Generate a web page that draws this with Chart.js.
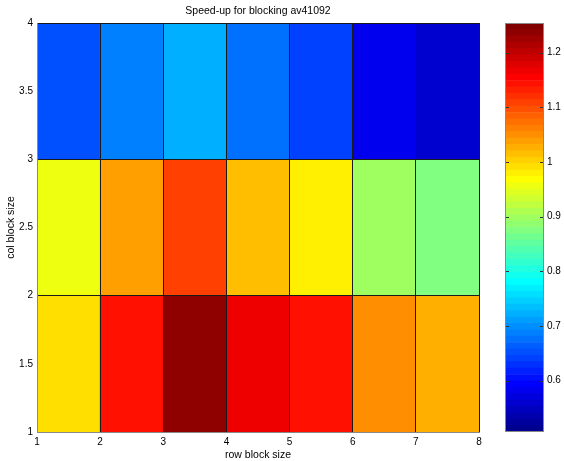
<!DOCTYPE html>
<html>
<head>
<meta charset="utf-8">
<script src="https://cdn.jsdelivr.net/npm/chart.js@4.4.1/dist/chart.umd.min.js"></script>
<style>
  html, body { margin: 0; padding: 0; background: #fff; overflow: hidden; }
  #wrap { position: relative; width: 564px; height: 461px; }
  #heat { position: absolute; left: 0; top: 0; width: 495px; height: 461px; }
  #cbar { position: absolute; left: 495px; top: 0; width: 69px; height: 461px; }
</style>
</head>
<body>
<div id="wrap">
  <canvas id="heat" width="495" height="461"></canvas>
  <canvas id="cbar" width="69" height="461"></canvas>
</div>
<script>
const rowBlockEdges = [1, 2, 3, 4, 5, 6, 7, 8];
const colBlockEdges = [1, 2, 3, 4];

// speed-up per cell, one array per col block band (bottom to top)
const speedupCol1 = [0.991, 1.143, 1.236, 1.166, 1.143, 1.049, 1.026];
const speedupCol2 = [0.956, 1.038, 1.108, 1.014, 0.979, 0.898, 0.874];
const speedupCol3 = [0.652, 0.687, 0.722, 0.676, 0.640, 0.582, 0.559];

const xTicks = [1, 2, 3, 4, 5, 6, 7, 8];
const yTicks = [1, 1.5, 2, 2.5, 3, 3.5, 4];
const cbarTicks = [0.6, 0.7, 0.8, 0.9, 1, 1.1, 1.2];
const cMin = 0.506;
const cMax = 1.254;

const FONT = '"Liberation Sans", Arial, Helvetica, sans-serif';

// matlab style jet(64)
function jet64(i) {
  const u = [];
  for (let k = 1; k <= 16; k++) u.push(k / 16);
  for (let k = 0; k < 15; k++) u.push(1);
  for (let k = 16; k >= 1; k--) u.push(k / 16);
  const pick = j => (j >= 0 && j < u.length ? u[j] : 0);
  const c = v => Math.round(v * 255);
  return `rgb(${c(pick(i - 24))},${c(pick(i - 8))},${c(pick(i + 8))})`;
}

function colorFor(v) {
  let idx = Math.floor((v - cMin) / (cMax - cMin) * 64);
  idx = Math.max(0, Math.min(63, idx));
  return jet64(idx);
}

function rowDataset(values, band) {
  return {
    data: values.map((v, i) => ({
      x: (rowBlockEdges[i] + rowBlockEdges[i + 1]) / 2,
      y: [colBlockEdges[band], colBlockEdges[band + 1]]
    })),
    backgroundColor: values.map(colorFor)
  };
}

function fixTicks(list) {
  return scale => { scale.ticks = list.map(v => ({ value: v })); };
}

const plainLabel = v => String(+v.toFixed(2));

new Chart(document.getElementById('heat'), {
  type: 'bar',
  data: {
    datasets: [
      rowDataset(speedupCol1, 0),
      rowDataset(speedupCol2, 1),
      rowDataset(speedupCol3, 2)
    ]
  },
  options: {
    responsive: false,
    animation: false,
    layout: { padding: { top: 0, right: 16, bottom: 0, left: 0 } },
    datasets: {
      bar: { grouped: false, barPercentage: 1, categoryPercentage: 1, borderWidth: 0 }
    },
    plugins: {
      legend: { display: false },
      tooltip: { enabled: false },
      title: {
        display: true,
        text: 'Speed-up for blocking av41092',
        fullSize: false,
        color: '#000',
        font: { family: FONT, size: 10.5, weight: 'normal' },
        padding: { top: 5, bottom: 5.4 }
      }
    },
    scales: {
      x: {
        type: 'linear',
        min: 1,
        max: 8,
        offset: false,
        afterBuildTicks: fixTicks(xTicks),
        afterFit: scale => { scale.height = 29; },
        ticks: { color: '#000', font: { family: FONT, size: 10 }, padding: 4, callback: plainLabel },
        grid: { color: '#1a1a1a', lineWidth: 1, drawTicks: false, offset: false, z: 1 },
        border: { color: '#888', z: 2 },
        title: {
          display: true,
          text: 'row block size',
          color: '#000',
          font: { family: FONT, size: 10.5 },
          padding: { top: 0, bottom: 0 }
        }
      },
      y: {
        type: 'linear',
        min: 1,
        max: 4,
        afterBuildTicks: fixTicks(yTicks),
        afterFit: scale => { scale.width = 37; },
        ticks: { color: '#000', font: { family: FONT, size: 10 }, padding: 4, callback: plainLabel },
        grid: {
          color: ctx => (ctx.tick && Number.isInteger(ctx.tick.value)) ? '#1a1a1a' : 'rgba(0,0,0,0)',
          lineWidth: 1,
          drawTicks: false,
          z: 1
        },
        border: { color: '#888', z: 2 },
        title: {
          display: true,
          text: 'col block size',
          color: '#000',
          font: { family: FONT, size: 10.5 },
          padding: { top: 4.7, bottom: 0 }
        }
      }
    }
  }
});

// colour bar: one floating bar per colormap level
const bandStep = (cMax - cMin) / 64;
const cbarSets = [];
for (let i = 0; i < 64; i++) {
  cbarSets.push({
    data: [[cMin + i * bandStep, cMin + (i + 1) * bandStep]],
    backgroundColor: jet64(i)
  });
}

const cbarFrame = {
  id: 'cbarFrame',
  afterDraw(chart) {
    const { ctx, chartArea: a, scales: { y } } = chart;
    ctx.save();
    ctx.strokeStyle = '#333';
    ctx.lineWidth = 1;
    cbarTicks.forEach(v => {
      const py = Math.round(y.getPixelForValue(v)) + 0.5;
      ctx.beginPath();
      ctx.moveTo(a.left, py); ctx.lineTo(a.left + 4, py);
      ctx.moveTo(a.right - 4, py); ctx.lineTo(a.right, py);
      ctx.stroke();
    });
    ctx.strokeStyle = '#888';
    ctx.strokeRect(Math.round(a.left) + 0.5, Math.round(a.top) + 0.5,
      Math.round(a.right - a.left) - 1, Math.round(a.bottom - a.top) - 1);
    ctx.restore();
  }
};

new Chart(document.getElementById('cbar'), {
  type: 'bar',
  data: { labels: [''], datasets: cbarSets },
  options: {
    responsive: false,
    animation: false,
    layout: { padding: { top: 23, right: 0, bottom: 29, left: 10 } },
    datasets: {
      bar: { grouped: false, barPercentage: 1, categoryPercentage: 1, borderWidth: 0 }
    },
    plugins: { legend: { display: false }, tooltip: { enabled: false } },
    scales: {
      x: { display: false },
      y: {
        position: 'right',
        min: cMin,
        max: cMax,
        afterBuildTicks: fixTicks(cbarTicks),
        afterFit: scale => { scale.width = 20; },
        ticks: { color: '#000', font: { family: FONT, size: 10 }, padding: 3, callback: plainLabel },
        grid: { display: false, drawTicks: false },
        border: { display: false }
      }
    }
  },
  plugins: [cbarFrame]
});
</script>
</body>
</html>
